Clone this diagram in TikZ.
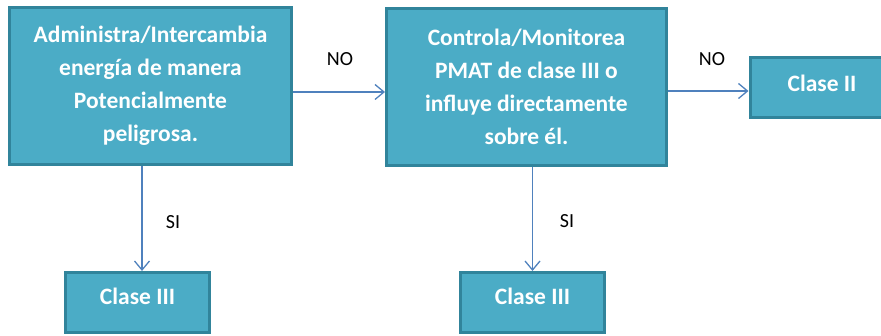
\documentclass[tikz,border=0pt]{standalone}
\usepackage{fontspec}
\setmainfont{Carlito}
\usetikzlibrary{arrows.meta}
\definecolor{boxfill}{HTML}{4BACC6}
\definecolor{boxline}{HTML}{31849B}
\definecolor{arrline}{HTML}{4F81BD}
\tikzset{
  decbox/.style={draw=boxline, fill=boxfill, line width=3pt, inner sep=0pt,
    text=white, align=center, font=\bfseries\fontsize{23.5}{33}\selectfont},
  smallbox/.style={decbox, minimum width=144pt},
  arr/.style={draw=arrline, line width=1.3pt, -{Straight Barb[length=9pt,width=15pt,line width=1.3pt]}},
  lbl/.style={text=black, font=\fontsize{20}{24}\selectfont, inner sep=0pt}
}
\begin{document}
\begin{tikzpicture}[x=1pt,y=-1pt]
\useasboundingbox (0,0) rectangle (881,336);
\clip (0,0) rectangle (881,336);
\node[decbox, minimum width=282pt, minimum height=157pt] (b1) at (150.5,86)
  {Administra/Intercambia\\energía de manera\\Potencialmente\\peligrosa.};
\node[decbox, minimum width=280pt, minimum height=157pt] (b2) at (526.5,87)
  {Controla/Monitorea\\PMAT de clase III o\\influye directamente\\sobre él.};
\node[smallbox, text height=34pt, text depth=26pt] (b3) at (822,87.5) {Clase II};
\node[smallbox, text height=32pt, text depth=28pt] (b4) at (137.5,302.5) {Clase III};
\node[smallbox, text height=32pt, text depth=28pt] (b5) at (532.5,302.5) {Clase III};
\draw[arr] ([yshift=-6pt]b1.east) -- ([yshift=-5pt]b2.west);
\draw[arr] ([yshift=-4pt]b2.east) -- ([yshift=-3.5pt]b3.west);
\draw[arr] ([xshift=4.5pt]b4.north |- b1.south) -- ([xshift=4.5pt]b4.north);
\draw[arr] (b5.north |- b2.south) -- (b5.north);
\node[lbl] (n1) at (340,59) {NO};
\node[lbl] (n2) at (712,59) {NO};
\node[lbl] (s1) at (173,222) {SI};
\node[lbl] (s2) at (567,221) {SI};
\end{tikzpicture}
\end{document}
